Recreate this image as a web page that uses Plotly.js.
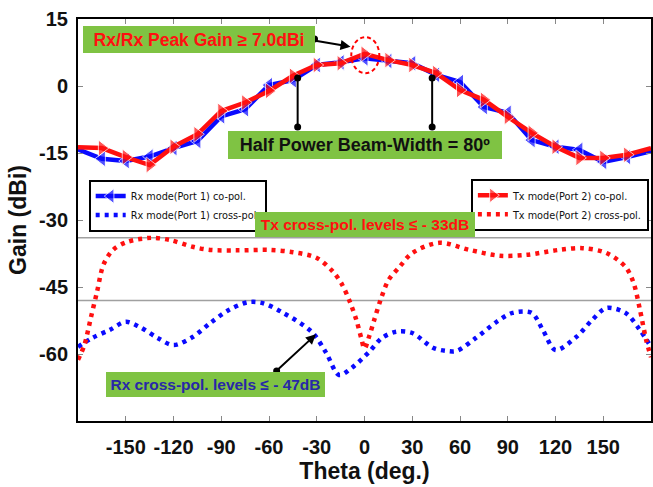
<!DOCTYPE html>
<html>
<head>
<meta charset="utf-8">
<script src="https://cdn.plot.ly/plotly-3.0.1.min.js"></script>
<style>
  html, body { margin: 0; padding: 0; background: #fff; }
  #chart { width: 653px; height: 487px; }
</style>
</head>
<body>
<div id="chart"></div>
<script>
// ---- Data ----
const theta = [-180,-165,-150,-135,-120,-105,-90,-75,-60,-45,-30,-15,0,15,30,45,60,75,90,105,120,135,150,165,180];
const rxCoPol = [-14.2,-16.3,-16.8,-15.8,-13.9,-12.3,-6.8,-5.2,0.2,1.3,4.7,5.3,6.2,5.6,5.1,2.5,0.9,-4.7,-6.0,-12.1,-13.6,-14.3,-17.0,-15.9,-14.6];
const txCoPol = [-13.7,-13.9,-15.9,-17.7,-13.6,-10.8,-5.6,-3.7,-1.1,2.3,4.7,5.1,7.2,5.8,4.7,2.9,-0.9,-3.1,-6.9,-10.5,-13.6,-16.1,-16.1,-15.4,-13.9];

const rxXTheta = [-180,-171,-160,-150,-141,-130,-120,-108,-97,-85,-73,-64,-51,-33,-24,-16,-8,3,11,20,30,43,51,58,70,83,93,105,112,120,133,143,152,164,173,180];
const rxXPol   = [-58.4,-56.4,-54.6,-52.8,-54.0,-56.4,-58.0,-56.2,-53.1,-50.1,-48.4,-48.6,-50.8,-55.1,-59.8,-64.7,-63.1,-59.5,-56.4,-55.0,-55.3,-58.6,-59.3,-59.3,-56.4,-52.8,-50.8,-50.8,-54.6,-59.1,-56.2,-52.4,-49.7,-50.8,-54.6,-58.4];

const txXTheta = [-180,-176,-172,-168,-164,-158,-149,-134,-122,-108,-97,-80,-60,-45,-30,-20,-14,-9,-5,-2,0,3,6,10,15,22,30,47,66,85,102,122,137,152,164,169,173,177,180];
const txXPol   = [-61.3,-58.0,-52.0,-46.0,-40.0,-36.7,-34.9,-34.0,-34.5,-36.0,-36.7,-36.8,-36.7,-37.2,-38.5,-41.5,-44.5,-48.5,-52.5,-56.5,-58.8,-56.0,-52.5,-48.0,-43.5,-40.5,-37.4,-35.1,-36.7,-38.0,-37.8,-36.7,-36.3,-37.4,-40.5,-44.0,-50.0,-56.9,-60.7];

const seriesNames = ['Rx mode(Port 1) co-pol.','Rx mode(Port 1) cross-pol.','Tx mode(Port 2) co-pol.','Tx mode(Port 2) cross-pol.'];
const xTickVals = [-150,-120,-90,-60,-30,0,30,60,90,120,150];
const yTickVals = [15,0,-15,-30,-45,-60];
const txLevel = -34;   // drawn reference line for Tx cross-pol level
const rxLevel = -48;   // drawn reference line for Rx cross-pol level
const texts = {
  peak: 'Rx/Rx Peak Gain ≥ 7.0dBi',
  hpbw: 'Half Power Beam-Width = 80º',
  tx: 'Tx cross-pol. levels ≤ - 33dB',
  rx: 'Rx cross-pol. levels ≤ - 47dB'
};

// ---- Styling ----
const BLUE = '#0a0aff', RED = '#ff1010', GREEN = '#7fc343';
const FONT = 'Liberation Sans, Arial, sans-serif';
const NARROW = 'DejaVu Sans Condensed, Liberation Sans, sans-serif';
const edgeSize = (s) => theta.map(t => Math.abs(t) === 180 ? 0 : s);

const traces = [
  {x: theta, y: rxCoPol, name: seriesNames[0], mode: 'lines+markers', legend: 'legend',
   line: {color: BLUE, width: 4.5},
   marker: {symbol: 'triangle-left', size: edgeSize(14), color: BLUE}},
  {x: rxXTheta, y: rxXPol, name: seriesNames[1], mode: 'lines', legend: 'legend',
   line: {color: BLUE, width: 4.5, dash: '4px,5px', shape: 'spline', smoothing: 0.9}},
  {x: theta, y: txCoPol, name: seriesNames[2], mode: 'lines+markers', legend: 'legend2',
   line: {color: RED, width: 4.5},
   marker: {symbol: 'triangle-right', size: edgeSize(14), color: RED}},
  {x: txXTheta, y: txXPol, name: seriesNames[3], mode: 'lines', legend: 'legend2',
   line: {color: RED, width: 4.5, dash: '4px,5px', shape: 'spline', smoothing: 0.9}}
];

function dot(xv, yv) {
  return {type: 'circle', xref: 'x', yref: 'y', xsizemode: 'pixel', ysizemode: 'pixel',
          xanchor: xv, yanchor: yv, x0: -3.5, x1: 3.5, y0: -3.5, y1: 3.5,
          fillcolor: 'black', line: {color: 'black', width: 0}, layer: 'above'};
}

const shapes = [
  {type: 'line', xref: 'paper', x0: 0, x1: 1, yref: 'y', y0: txLevel, y1: txLevel,
   line: {color: '#a0a0a0', width: 1.5}, layer: 'below'},
  {type: 'line', xref: 'paper', x0: 0, x1: 1, yref: 'y', y0: rxLevel, y1: rxLevel,
   line: {color: '#a0a0a0', width: 1.5}, layer: 'below'},
  // dashed ellipse around peak (pixel sized, anchored at the peak angle)
  {type: 'circle', xref: 'x', yref: 'y', xsizemode: 'pixel', ysizemode: 'pixel',
   xanchor: 0.5, yanchor: 6.9, x0: -14, x1: 14, y0: -18, y1: 18,
   fillcolor: 'rgba(0,0,0,0)', line: {color: '#ff0000', width: 2, dash: '4px,3px'}, layer: 'above'},
  // half-power markers
  {type: 'line', xref: 'x', yref: 'y', x0: -42, x1: -42, y0: 1.8, y1: -9.2, line: {color: 'black', width: 2}},
  {type: 'line', xref: 'x', yref: 'y', x0: 42.5, x1: 42.5, y0: 1.8, y1: -9.2, line: {color: 'black', width: 2}},
  dot(-42, 1.8), dot(-42, -9.2), dot(42.5, 1.8), dot(42.5, -9.2),
  dot(-31.4, 10.5), dot(-55.2, -63.8)
];

function box(text, xv, yv, w, h, color, size) {
  return {x: xv, y: yv, xref: 'x', yref: 'y', text: '<b>' + text + '</b>', showarrow: false,
          bgcolor: GREEN, borderpad: 0, borderwidth: 0, width: w, height: h,
          xanchor: 'center', yanchor: 'middle', align: 'center',
          font: {family: FONT, size: size, color: color}};
}

const annotations = [
  box(texts.peak, -104.1, 10.4, 232, 27, RED, 17.5),
  box(texts.hpbw, 0.6, -13.2, 274, 28, '#111', 18),
  box(texts.tx, 0.6, -31.1, 220, 25, RED, 15.5),
  box(texts.rx, -93.8, -66.8, 219, 25, '#2828a8', 15.5),
  {x: -8.8, y: 8.8, xref: 'x', yref: 'y', ax: -35, ay: -6, text: '', showarrow: true,
   arrowhead: 2, arrowsize: 1, arrowwidth: 2, arrowcolor: 'black', standoff: 0, startstandoff: 0},
  {x: -30.5, y: -55.6, xref: 'x', yref: 'y', ax: -39, ay: 36, text: '', showarrow: true,
   arrowhead: 2, arrowsize: 1, arrowwidth: 2, arrowcolor: 'black', standoff: 0, startstandoff: 0}
];

const legendCommon = {
  bgcolor: 'white', bordercolor: 'black', borderwidth: 1.8,
  font: {family: NARROW, size: 10.8, color: '#111'},
  xanchor: 'left', yanchor: 'top', itemwidth: 30, tracegroupgap: 0, traceorder: 'normal'
};

const layout = {
  width: 653, height: 487,
  margin: {l: 78, r: 2, t: 19, b: 66, autoexpand: false},
  paper_bgcolor: 'white', plot_bgcolor: 'white',
  showlegend: true,
  legend: Object.assign({x: 0.019, y: 0.6}, legendCommon),
  legend2: Object.assign({x: 0.686, y: 0.602}, legendCommon),
  xaxis: {
    range: [-180, 180], tickvals: xTickVals, ticktext: xTickVals.map(String),
    ticks: 'inside', ticklen: 5, tickcolor: '#888', tickwidth: 1,
    showline: true, linecolor: 'black', linewidth: 2, mirror: 'ticks',
    showgrid: false, zeroline: false, ticklabelstandoff: 7,
    tickfont: {family: FONT, size: 20, color: '#111', weight: 'bold'},
    title: {text: '<b>Theta (deg.)</b>', font: {family: FONT, size: 23, color: '#111'}, standoff: 4}
  },
  yaxis: {
    range: [-75, 15], tickvals: yTickVals, ticktext: yTickVals.map(String),
    ticks: 'inside', ticklen: 5, tickcolor: '#888', tickwidth: 1,
    showline: true, linecolor: 'black', linewidth: 2, mirror: 'ticks',
    showgrid: false, zeroline: false, ticklabelstandoff: 4,
    tickfont: {family: FONT, size: 20, color: '#111', weight: 'bold'},
    title: {text: '<b>Gain (dBi)</b>', font: {family: FONT, size: 23, color: '#111'}, standoff: 6}
  },
  shapes: shapes,
  annotations: annotations
};

Plotly.newPlot('chart', traces, layout, {displayModeBar: false, staticPlot: true});
</script>
</body>
</html>
